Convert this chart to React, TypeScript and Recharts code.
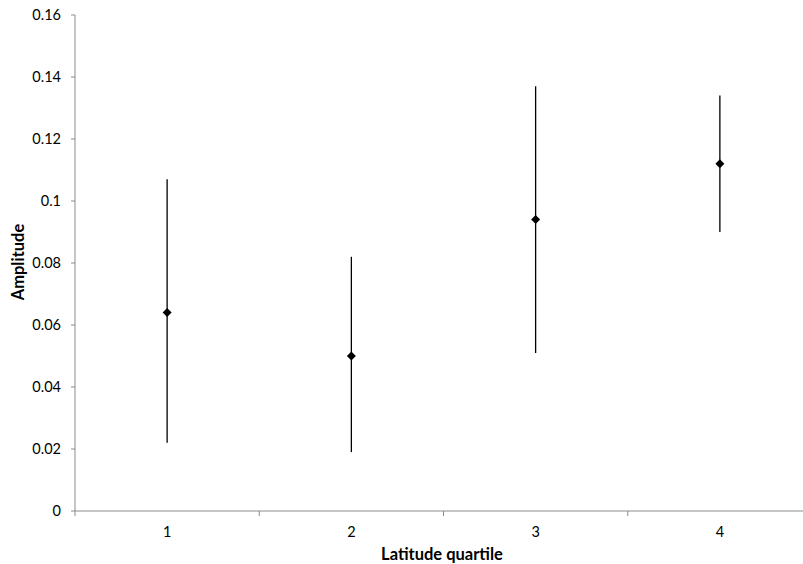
import { ScatterChart, Scatter, XAxis, YAxis, ErrorBar, Label } from 'recharts';

const quartiles = [1, 2, 3, 4];
const amplitude = [0.064, 0.05, 0.094, 0.112];
const lowerBound = [0.022, 0.019, 0.051, 0.09];
const upperBound = [0.107, 0.082, 0.137, 0.134];

const xTicks = [0.5, 1, 1.5, 2, 2.5, 3, 3.5, 4, 4.5];
const yTicks = [0, 0.02, 0.04, 0.06, 0.08, 0.1, 0.12, 0.14, 0.16];

const data = quartiles.map((q, i) => ({
    q,
    amp: amplitude[i],
    err: [amplitude[i] - lowerBound[i], upperBound[i] - amplitude[i]],
}));

const axisColor = '#8c8c8c';
const fontFamily = 'Lato, "Open Sans", sans-serif';

function Diamond(props: any) {
    const { cx, cy } = props;
    const r = 4.5;
    return <path d={`M${cx},${cy - r}L${cx + r},${cy}L${cx},${cy + r}L${cx - r},${cy}Z`} fill="#000" />;
}

function XTick(props: any) {
    const { x, y, payload } = props;
    const v = payload.value as number;
    if (Number.isInteger(v)) {
        return (
            <text x={x} y={y + 26} textAnchor="middle" fontSize={14.5} fill="#000" fontFamily={fontFamily}>
                {v}
            </text>
        );
    }
    return <line x1={x} x2={x} y1={y} y2={y + 5} stroke={axisColor} strokeWidth={1} />;
}

export default function App() {
    return (
        <div style={{ position: 'absolute', left: 0, top: 0, width: 803, height: 564, overflow: 'hidden', background: '#fff' }}>
            <ScatterChart width={812} height={564} margin={{ top: 15, right: 0, bottom: 23, left: 0 }}>
                <XAxis
                    type="number"
                    dataKey="q"
                    domain={[0.5, 4.5]}
                    ticks={xTicks}
                    interval={0}
                    tickLine={false}
                    tickSize={0}
                    tickMargin={0}
                    tick={<XTick />}
                    stroke={axisColor}
                    height={30}
                >
                    <Label
                        content={() => (
                            <text x={442} y={560} textAnchor="middle" fontSize={16.5} fontWeight="bold" fill="#000" fontFamily={fontFamily}>
                                Latitude quartile
                            </text>
                        )}
                    />
                </XAxis>
                <YAxis
                    type="number"
                    dataKey="amp"
                    domain={[0, 0.16]}
                    ticks={yTicks}
                    interval={0}
                    width={75}
                    tickSize={4}
                    tickMargin={10}
                    stroke={axisColor}
                    tick={{ fill: '#000', fontSize: 14.5, fontFamily }}
                >
                    <Label
                        content={() => (
                            <text
                                x={24}
                                y={262}
                                transform="rotate(-90 24 262)"
                                textAnchor="middle"
                                fontSize={16.5}
                                fontWeight="bold"
                                fill="#000"
                                fontFamily={fontFamily}
                            >
                                Amplitude
                            </text>
                        )}
                    />
                </YAxis>
                <Scatter data={data} shape={<Diamond />} isAnimationActive={false}>
                    <ErrorBar dataKey="err" direction="y" width={0} stroke="#000" strokeWidth={1.3} isAnimationActive={false} />
                </Scatter>
            </ScatterChart>
        </div>
    );
}
